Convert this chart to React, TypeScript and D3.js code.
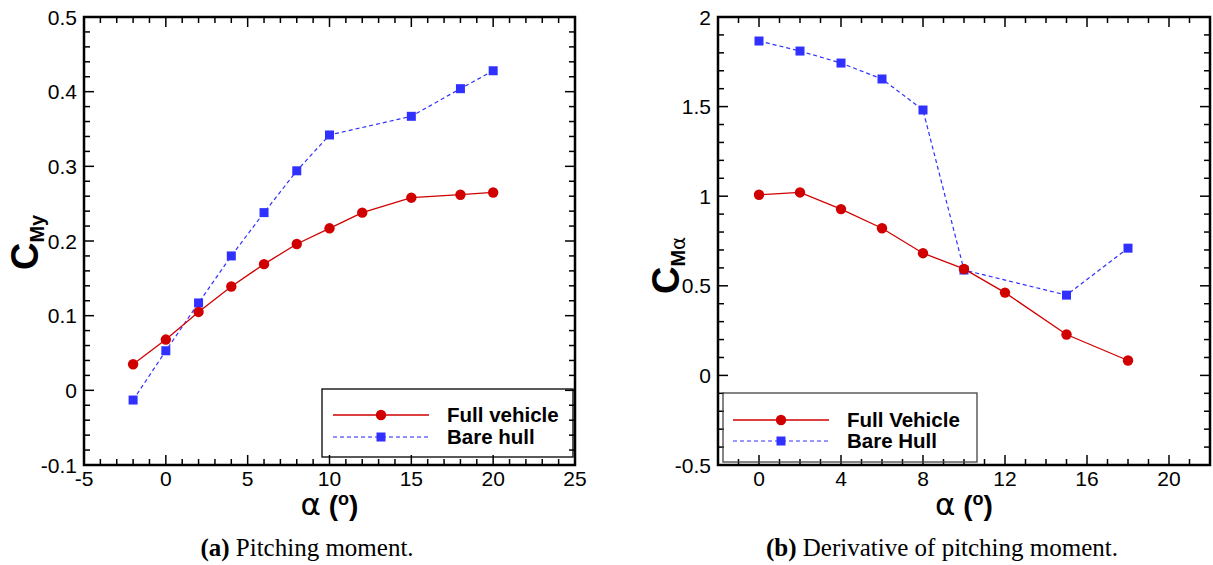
import React from "react";
import * as d3 from "d3";

// ---------- Data ----------
// (a) Pitching moment C_My vs alpha
const alphaFullA = [-2, 0, 2, 4, 6, 8, 10, 12, 15, 18, 20];
const cmyFullA = [0.035, 0.068, 0.105, 0.139, 0.169, 0.196, 0.217, 0.238, 0.258, 0.262, 0.265];
const alphaBareA = [-2, 0, 2, 4, 6, 8, 10, 15, 18, 20];
const cmyBareA = [-0.013, 0.053, 0.117, 0.18, 0.238, 0.294, 0.342, 0.367, 0.404, 0.428];

// (b) Derivative C_Malpha vs alpha
const alphaFullB = [0, 2, 4, 6, 8, 10, 12, 15, 18];
const cmaFullB = [1.008, 1.021, 0.928, 0.821, 0.682, 0.594, 0.462, 0.228, 0.083];
const alphaBareB = [0, 2, 4, 6, 8, 10, 15, 18];
const cmaBareB = [1.866, 1.81, 1.743, 1.654, 1.481, 0.588, 0.448, 0.71];

// axis tick definitions
const xMajorA = [-5, 0, 5, 10, 15, 20, 25];
const yMajorA = [-0.1, 0, 0.1, 0.2, 0.3, 0.4, 0.5];
const xMajorB = [0, 4, 8, 12, 16, 20];
const yMajorB = [-0.5, 0, 0.5, 1, 1.5, 2];

const legendA = ["Full vehicle", "Bare hull"];
const legendB = ["Full Vehicle", "Bare Hull"];

const RED = "#d10000";
const BLUE = "#3030ff";
const SANS = "'Liberation Sans', Arial, Helvetica, sans-serif";
const SERIF = "'Liberation Serif', 'Times New Roman', serif";

function fmt(v: number) {
  const r = Math.round(v * 1000) / 1000;
  return String(r);
}

type PanelProps = {
  box: { l: number; t: number; r: number; b: number };
  xDomain: [number, number];
  yDomain: [number, number];
  xMajor: number[];
  yMajor: number[];
  xMinorStep: number;
  yMinorStep: number;
  full: { x: number[]; y: number[] };
  bare: { x: number[]; y: number[] };
  legendLabels: string[];
  legendBox: { x: number; y: number; w: number; h: number; stroke: string };
  legendRows: { y1: number; y2: number; x0: number; x1: number; tx: number };
  bareLegendStyle: { stroke: string; width: number; dash: string };
  yLabel: React.ReactNode;
};

function Panel(p: PanelProps) {
  const { box } = p;
  const x = d3.scaleLinear().domain(p.xDomain).range([box.l, box.r]);
  const y = d3.scaleLinear().domain(p.yDomain).range([box.b, box.t]);
  const eps = 1e-9;
  const xMinor = d3
    .range(p.xDomain[0], p.xDomain[1] + eps, p.xMinorStep)
    .filter((v) => !p.xMajor.some((m) => Math.abs(m - v) < 1e-6));
  const yMinor = d3
    .range(p.yDomain[0], p.yDomain[1] + eps, p.yMinorStep)
    .filter((v) => !p.yMajor.some((m) => Math.abs(m - v) < 1e-6));
  const MAJ = 10;
  const MIN = 6;

  const line = d3
    .line<[number, number]>()
    .x((d) => x(d[0]))
    .y((d) => y(d[1]));
  const fullPts = p.full.x.map((v, i) => [v, p.full.y[i]] as [number, number]);
  const barePts = p.bare.x.map((v, i) => [v, p.bare.y[i]] as [number, number]);

  const xTick = (v: number, len: number, key: string) => (
    <g key={key}>
      <line x1={x(v)} x2={x(v)} y1={box.b} y2={box.b - len} stroke="#000" strokeWidth={1.5} />
      <line x1={x(v)} x2={x(v)} y1={box.t} y2={box.t + len} stroke="#000" strokeWidth={1.5} />
    </g>
  );
  const yTick = (v: number, len: number, key: string) => (
    <g key={key}>
      <line x1={box.l} x2={box.l + len} y1={y(v)} y2={y(v)} stroke="#000" strokeWidth={1.5} />
      <line x1={box.r} x2={box.r - len} y1={y(v)} y2={y(v)} stroke="#000" strokeWidth={1.5} />
    </g>
  );

  const lr = p.legendRows;
  const midX = (lr.x0 + lr.x1) / 2;
  return (
    <g>
      {/* ticks */}
      {xMinor.map((v, i) => xTick(v, MIN, "xm" + i))}
      {p.xMajor.map((v, i) => xTick(v, MAJ, "xM" + i))}
      {yMinor.map((v, i) => yTick(v, MIN, "ym" + i))}
      {p.yMajor.map((v, i) => yTick(v, MAJ, "yM" + i))}

      {/* tick labels */}
      {p.xMajor.map((v, i) => (
        <text key={"xl" + i} x={x(v)} y={box.b + 21} textAnchor="middle" fontFamily={SANS} fontSize={21}>
          {fmt(v)}
        </text>
      ))}
      {p.yMajor.map((v, i) => (
        <text key={"yl" + i} x={box.l - 7} y={y(v) + 7.5} textAnchor="end" fontFamily={SANS} fontSize={21}>
          {fmt(v)}
        </text>
      ))}

      {/* series */}
      <path d={line(barePts) || ""} fill="none" stroke={BLUE} strokeWidth={1.2} strokeDasharray="4,3" />
      <path d={line(fullPts) || ""} fill="none" stroke={RED} strokeWidth={1.3} />
      {barePts.map((d, i) => (
        <rect key={"bs" + i} x={x(d[0]) - 4.5} y={y(d[1]) - 4.5} width={9} height={9} fill={BLUE} />
      ))}
      {fullPts.map((d, i) => (
        <circle key={"fc" + i} cx={x(d[0])} cy={y(d[1])} r={5.2} fill={RED} />
      ))}

      {/* legend */}
      <rect
        x={p.legendBox.x}
        y={p.legendBox.y}
        width={p.legendBox.w}
        height={p.legendBox.h}
        fill="none"
        stroke={p.legendBox.stroke}
        strokeWidth={1.3}
      />
      <line x1={lr.x0} x2={lr.x1} y1={lr.y1} y2={lr.y1} stroke={RED} strokeWidth={1.3} />
      <circle cx={midX} cy={lr.y1} r={5.2} fill={RED} />
      <line
        x1={lr.x0}
        x2={lr.x1}
        y1={lr.y2}
        y2={lr.y2}
        stroke={p.bareLegendStyle.stroke}
        strokeWidth={p.bareLegendStyle.width}
        strokeDasharray={p.bareLegendStyle.dash}
      />
      <rect x={midX - 4.5} y={lr.y2 - 4.5} width={9} height={9} fill={BLUE} />
      <text x={lr.tx} y={lr.y1 + 7} fontFamily={SANS} fontWeight="bold" fontSize={20.5}>
        {p.legendLabels[0]}
      </text>
      <text x={lr.tx} y={lr.y2 + 7} fontFamily={SANS} fontWeight="bold" fontSize={20.5}>
        {p.legendLabels[1]}
      </text>

      {/* frame */}
      <rect x={box.l} y={box.t} width={box.r - box.l} height={box.b - box.t} fill="none" stroke="#000" strokeWidth={2.5} />

      {/* x title */}
      <text x={(box.l + box.r) / 2} y={box.b + 50} textAnchor="middle" fontFamily={SANS}>
        <tspan fontSize={31} fontFamily="'DejaVu Sans', sans-serif" fontWeight="normal">α</tspan>
        <tspan fontSize={28} fontWeight="bold"> (</tspan>
        <tspan fontSize={18} fontWeight="bold" dy={-10}>o</tspan>
        <tspan fontSize={28} fontWeight="bold" dy={10}>)</tspan>
      </text>

      {p.yLabel}
    </g>
  );
}

export default function App() {
  const W = 1213;
  const H = 565;
  return (
    <svg
      width={W}
      height={H}
      viewBox={`0 0 ${W} ${H}`}
      style={{ position: "absolute", left: 0, top: 0, background: "#fff" }}
    >
      <rect x={0} y={0} width={W} height={H} fill="#fff" />
      <Panel
        box={{ l: 84, t: 17, r: 575, b: 465 }}
        xDomain={[-5, 25]}
        yDomain={[-0.1, 0.5]}
        xMajor={xMajorA}
        yMajor={yMajorA}
        xMinorStep={1}
        yMinorStep={0.02}
        full={{ x: alphaFullA, y: cmyFullA }}
        bare={{ x: alphaBareA, y: cmyBareA }}
        legendLabels={legendA}
        legendBox={{ x: 322, y: 389, w: 251, h: 68, stroke: "#000" }}
        legendRows={{ y1: 415, y2: 437, x0: 333, x1: 429, tx: 447 }}
        bareLegendStyle={{ stroke: "#8f8fff", width: 2, dash: "4,3" }}
        yLabel={
          <text transform="translate(38,270) rotate(-90)" fontFamily={SANS} fontWeight="bold">
            <tspan fontSize={38}>C</tspan>
            <tspan fontSize={20} dy={6}>My</tspan>
          </text>
        }
      />
      <Panel
        box={{ l: 718, t: 17, r: 1210, b: 465 }}
        xDomain={[-2, 22]}
        yDomain={[-0.5, 2]}
        xMajor={xMajorB}
        yMajor={yMajorB}
        xMinorStep={1}
        yMinorStep={0.1}
        full={{ x: alphaFullB, y: cmaFullB }}
        bare={{ x: alphaBareB, y: cmaBareB }}
        legendLabels={legendB}
        legendBox={{ x: 723, y: 393, w: 254, h: 69, stroke: "#444" }}
        legendRows={{ y1: 420, y2: 441, x0: 733, x1: 829, tx: 847 }}
        bareLegendStyle={{ stroke: BLUE, width: 1.2, dash: "4,3" }}
        yLabel={
          <text transform="translate(679,294) rotate(-90)" fontFamily={SANS} fontWeight="bold">
            <tspan fontSize={38}>C</tspan>
            <tspan fontSize={20} dy={6}>M</tspan>
            <tspan fontSize={20} fontWeight="normal" fontFamily="'DejaVu Sans', sans-serif">α</tspan>
          </text>
        }
      />
      {/* captions */}
      <text x={307} y={556} textAnchor="middle" fontFamily={SERIF} fontSize={25}>
        <tspan fontWeight="bold">(a)</tspan> Pitching moment.
      </text>
      <text x={942} y={556} textAnchor="middle" fontFamily={SERIF} fontSize={25}>
        <tspan fontWeight="bold">(b)</tspan> Derivative of pitching moment.
      </text>
    </svg>
  );
}
